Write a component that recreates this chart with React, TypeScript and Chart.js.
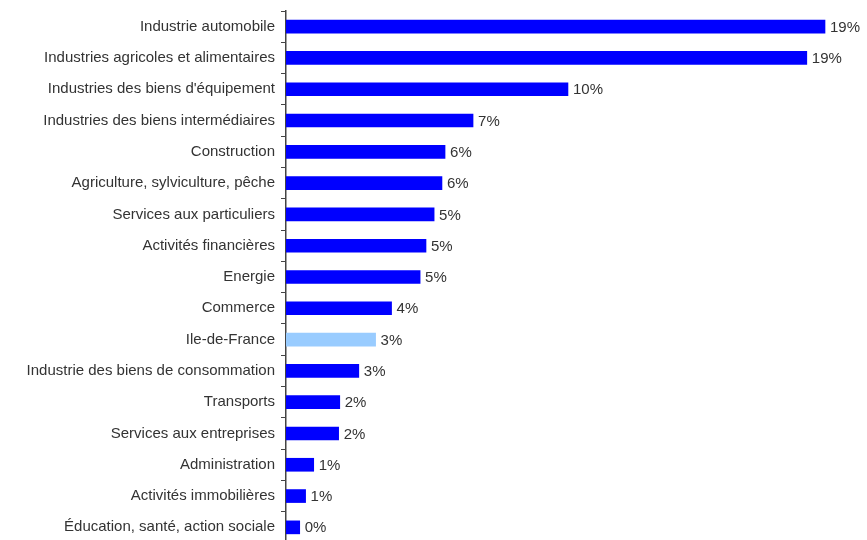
import React, { useEffect, useRef } from "react";
import { Chart, registerables } from "chart.js";

Chart.register(...registerables);

const categories = [
  "Industrie automobile",
  "Industries agricoles et alimentaires",
  "Industries des biens d'équipement",
  "Industries des biens intermédiaires",
  "Construction",
  "Agriculture, sylviculture, pêche",
  "Services aux particuliers",
  "Activités financières",
  "Energie",
  "Commerce",
  "Ile-de-France",
  "Industrie des biens de consommation",
  "Transports",
  "Services aux entreprises",
  "Administration",
  "Activités immobilières",
  "Éducation, santé, action sociale",
];

const values = [19.25, 18.6, 10.07, 6.68, 5.68, 5.57, 5.29, 5.0, 4.79, 3.77, 3.2, 2.6, 1.92, 1.88, 0.99, 0.7, 0.49];
const valueLabels = ["19%", "19%", "10%", "7%", "6%", "6%", "5%", "5%", "5%", "4%", "3%", "3%", "2%", "2%", "1%", "1%", "0%"];
const highlight = "Ile-de-France";

const FONT = "'Liberation Sans', Arial, sans-serif";
const CANVAS_H = 562;

const labelPlugin = {
  id: "barLabels",
  afterDatasetsDraw(chart: any) {
    const ctx = chart.ctx;
    const meta = chart.getDatasetMeta(0);
    ctx.save();
    ctx.font = `15px ${FONT}`;
    ctx.fillStyle = "#333333";
    ctx.textAlign = "left";
    ctx.textBaseline = "middle";
    meta.data.forEach((bar: any, i: number) => {
      ctx.fillText(valueLabels[i], bar.x + 5, bar.y + 1);
    });
    ctx.restore();
  },
};

export default function App() {
  const ref = useRef<HTMLCanvasElement>(null);
  useEffect(() => {
    document.body.style.overflow = "hidden";
    const chart = new Chart(ref.current!, {
      type: "bar",
      data: {
        labels: categories,
        datasets: [
          {
            data: values,
            backgroundColor: categories.map((c) => (c === highlight ? "#99CCFF" : "#0000FF")),
            barThickness: 13,
            borderWidth: 0,
          },
        ],
      },
      options: {
        indexAxis: "y",
        animation: false,
        responsive: false,
        maintainAspectRatio: false,
        layout: { padding: { top: 5, right: 21, bottom: 5, left: 0 } },
        plugins: { legend: { display: false }, tooltip: { enabled: false } },
        scales: {
          x: { display: false, min: 0, max: 20 },
          y: {
            offset: true,
            afterFit: (scale: any) => {
              scale.width = 286;
            },
            grid: {
              display: true,
              offset: true,
              drawOnChartArea: false,
              drawTicks: true,
              tickLength: 5,
              color: "#444444",
              lineWidth: 1,
            },
            border: { display: true, color: "#444444", width: 1.5 },
            ticks: {
              color: "#333333",
              padding: 6,
              font: { family: FONT, size: 15 },
              autoSkip: false,
            },
          },
        },
      },
      plugins: [labelPlugin],
    });
    return () => chart.destroy();
  }, []);
  return (
    <div style={{ position: "absolute", left: 0, top: -4, width: 867, height: CANVAS_H }}>
      <canvas ref={ref} width={867} height={CANVAS_H} style={{ width: 867, height: CANVAS_H }} />
    </div>
  );
}
